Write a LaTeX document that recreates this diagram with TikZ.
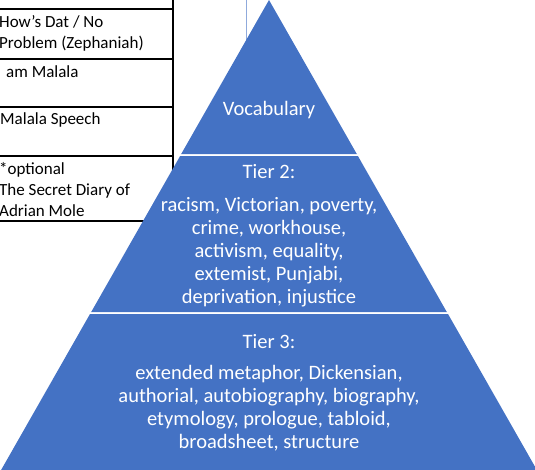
\documentclass[tikz,border=0pt]{standalone}
\usepackage{fontspec}
\setmainfont{Carlito}
\definecolor{tierblue}{HTML}{4472C4}
\definecolor{stemblue}{HTML}{8FAADC}
\begin{document}
\begin{tikzpicture}[x=1pt,y=-1pt,line cap=round,line join=round,
  tier/.style={fill=tierblue},
  tiertext/.style={text=white,font=\fontsize{20.5}{22.8}\selectfont,align=center,inner sep=0pt,anchor=base},
  cellline/.style={line width=1.3pt,line cap=rect},
  celltext/.style={anchor=base west,inner sep=0pt,font=\fontsize{17}{21}\selectfont,align=left}]
\useasboundingbox (0,0) rectangle (535,469);
\clip (0,0) rectangle (535,469);
\draw[cellline] (0,9)--(173,9);
\draw[cellline] (0,59)--(173,59);
\draw[cellline] (0,107)--(173,107);
\draw[cellline] (0,156)--(173,156);
\draw[cellline] (0,221)--(173,221);
\draw[cellline] (173,-2)--(173,221);
\node[celltext] (zeph) at (-1,48) {How’s Dat / No\\Problem (Zephaniah)};
\node[celltext] (malala) at (6,77) {am Malala};
\node[celltext] (speech) at (0,124) {Malala Speech};
\node[celltext] (diary) at (-1,216) {*optional\\The Secret Diary of\\Adrian Mole};
\draw[stemblue,line width=1pt] (246.5,-2)--(246.5,45);
\coordinate (A) at (269,0);
\fill[tier] (A)--(356.8,154)--(181.2,154)--cycle;
\fill[tier] (180.1,156)--(357.9,156)--(446.8,312)--(91.2,312)--cycle;
\fill[tier] (90,314)--(448,314)--(542.6,480)--(-4.6,480)--cycle;
\node[tiertext] (vocab) at (269,115) {Vocabulary};
\node[tiertext] (tier2head) at (269,178) {Tier 2:};
\node[tiertext] (tier2words) at (269,303) {racism, Victorian, poverty,\\crime, workhouse,\\activism, equality,\\extemist, Punjabi,\\deprivation, injustice};
\node[tiertext] (tier3head) at (269,348) {Tier 3:};
\node[tiertext] (tier3words) at (269,448) {extended metaphor, Dickensian,\\authorial, autobiography, biography,\\etymology, prologue, tabloid,\\broadsheet, structure};
\end{tikzpicture}
\end{document}
